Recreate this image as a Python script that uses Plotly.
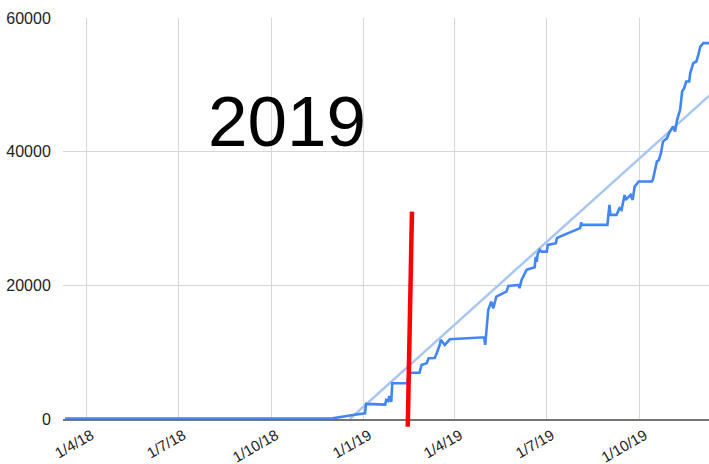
import plotly.graph_objects as go

# cumulative series
dates = [
    "2018-03-11", "2018-12-01", "2018-12-21", "2019-01-02", "2019-01-03",
    "2019-01-22", "2019-01-23", "2019-01-25", "2019-01-26", "2019-01-28",
    "2019-01-29", "2019-02-13", "2019-02-14", "2019-02-25", "2019-02-27",
    "2019-03-04", "2019-03-06", "2019-03-12", "2019-03-14", "2019-03-17",
    "2019-03-18", "2019-03-22", "2019-03-27", "2019-04-30", "2019-05-01",
    "2019-05-04", "2019-05-07", "2019-05-09", "2019-05-12", "2019-05-22",
    "2019-05-24", "2019-06-03", "2019-06-04", "2019-06-06", "2019-06-11",
    "2019-06-19", "2019-06-20", "2019-06-21", "2019-06-22", "2019-06-24",
    "2019-06-26", "2019-07-01", "2019-07-02", "2019-07-10", "2019-07-11",
    "2019-07-14", "2019-08-03", "2019-08-04", "2019-08-05", "2019-08-30",
    "2019-09-01", "2019-09-02", "2019-09-08", "2019-09-10", "2019-09-11",
    "2019-09-13", "2019-09-15", "2019-09-16", "2019-09-17", "2019-09-19",
    "2019-09-22", "2019-09-24", "2019-09-26", "2019-09-30", "2019-10-13",
    "2019-10-14", "2019-10-16", "2019-10-18", "2019-10-20", "2019-10-22",
    "2019-10-24", "2019-10-28", "2019-10-30", "2019-11-02", "2019-11-03",
    "2019-11-05", "2019-11-07", "2019-11-10", "2019-11-12", "2019-11-14",
    "2019-11-16", "2019-11-19", "2019-11-20", "2019-11-23", "2019-11-26",
    "2019-11-28", "2019-11-30", "2019-12-03", "2019-12-10",
]
values = [
    50, 100, 600, 850, 2250,
    2150, 2850, 2700, 3450, 2550,
    5350, 5350, 6930, 6930, 8080,
    8340, 9090, 9130, 9840, 11080,
    11830, 11080, 11930, 12230, 11080,
    16320, 17560, 16570, 18310, 19060,
    19910, 20060, 19570, 20810, 22310,
    22710, 24250, 23500, 24700, 25300,
    25040, 25040, 26050, 26300, 27050,
    27290, 28550, 29390, 29040, 29040,
    32040, 30540, 30540, 31290, 31540,
    31290, 32530, 33530, 32780, 33040,
    33530, 32780, 34780, 35530, 35530,
    35780, 37280, 38520, 38770, 39780,
    41510, 42020, 42770, 43520, 43760,
    43010, 44760, 46260, 49000, 49510,
    50490, 50490, 51750, 53250, 53490,
    54490, 55730, 56240, 56240,
]

# linear trendline
trend_dates = ["2018-12-18", "2019-12-10"]
trend_values = [0, 48550]

# hand drawn red marker line
marker_dates = ["2019-02-13 08:00", "2019-02-17 12:00"]
marker_values = [-1150, 31030]

tick_dates = ["2018-04-01", "2018-07-01", "2018-10-01", "2019-01-01",
              "2019-04-01", "2019-07-01", "2019-10-01"]
tick_labels = ["1/4/18", "1/7/18", "1/10/18", "1/1/19", "1/4/19", "1/7/19", "1/10/19"]
y_ticks = [0, 20000, 40000, 60000]
y_max = 60000

fig = go.Figure()
fig.add_trace(go.Scatter(
    x=trend_dates, y=trend_values, mode="lines",
    line=dict(color="#a9c6f3", width=2.5), hoverinfo="skip"
))
fig.add_trace(go.Scatter(
    x=dates, y=values, mode="lines",
    line=dict(color="#4285f4", width=2.6), hoverinfo="skip"
))

# red line sticks out under the axis, so draw it as a shape in paper y
fig.add_shape(
    type="line", xref="x", yref="paper",
    x0=marker_dates[0], y0=marker_values[0] / y_max,
    x1=marker_dates[1], y1=marker_values[1] / y_max,
    line=dict(color="#ff0000", width=4.5), layer="above"
)

fig.add_annotation(
    text="2019", xref="paper", yref="paper", x=0.346, y=0.742,
    showarrow=False, font=dict(size=71, color="#000000", family="Liberation Sans, Arial"),
    xanchor="center", yanchor="middle"
)

fig.update_layout(
    width=709, height=464,
    margin=dict(l=63, r=0, t=18, b=45),
    paper_bgcolor="white", plot_bgcolor="white",
    showlegend=False,
    font=dict(family="Liberation Sans, Arial", size=16, color="#222222"),
    xaxis=dict(
        type="date", range=["2018-03-09", "2019-12-08 14:00"],
        tickvals=tick_dates, ticktext=tick_labels, tickangle=-30,
        showgrid=True, gridcolor="#d6d6d6", gridwidth=1,
        showline=True, linecolor="#757575", linewidth=2,
        ticks="", zeroline=False, automargin=False,
        tickfont=dict(size=15), ticklabelshift=5,
    ),
    yaxis=dict(
        range=[0, y_max], tickvals=y_ticks, tickformat="d",
        showgrid=True, gridcolor="#d6d6d6", gridwidth=1,
        zeroline=False, ticks="outside", ticklen=8, tickcolor="rgba(0,0,0,0)",
        automargin=False, tickfont=dict(size=16),
    ),
)

# page body has a default 8px margin; drop it so the figure sits at 0,0
fig.write_html("out.html", config={"displayModeBar": False},
               post_script="document.body.style.margin='0';")
